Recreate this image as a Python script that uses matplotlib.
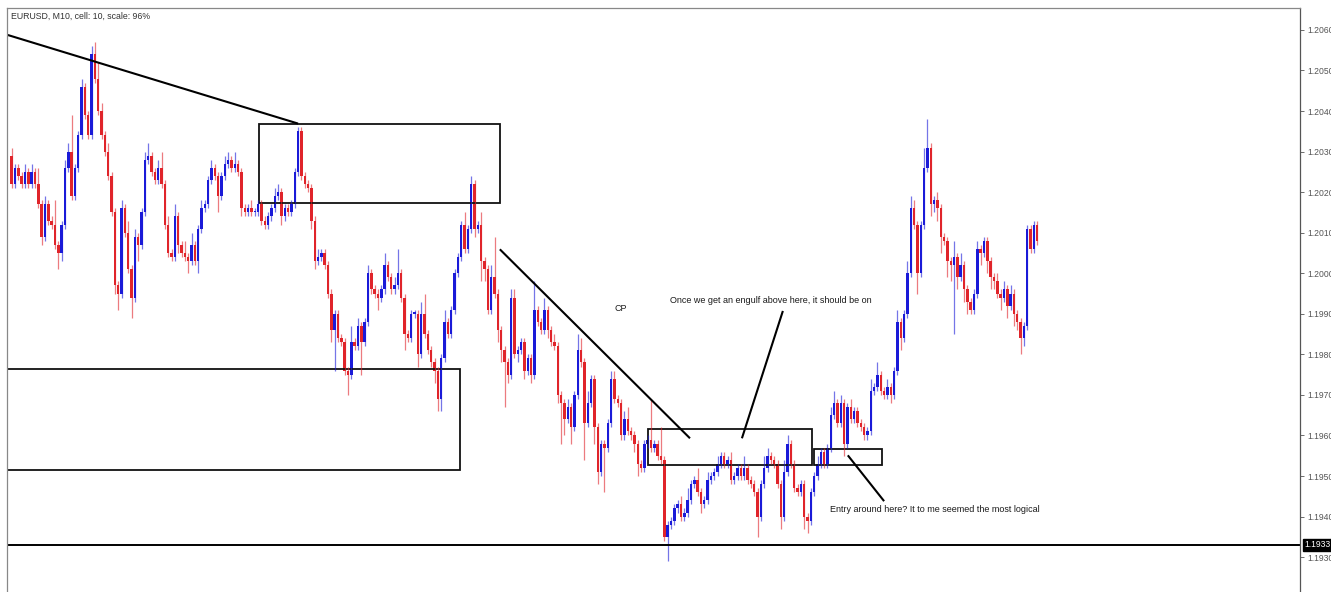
"""
EURUSD M10 candlestick chart with the trader's hand-drawn notes
(trend lines, supply/demand boxes and comments).
"""

import matplotlib
matplotlib.use("Agg")

import matplotlib.pyplot as plt
import numpy as np
from matplotlib.patches import Rectangle

# Price data. Open of each bar = previous close.
first_open = 1.2029

closes = [
    1.2022, 1.2026, 1.2024, 1.2022, 1.2025, 1.2022, 1.2025, 1.2022, 1.2017, 1.2009,
    1.2017, 1.2013, 1.2012, 1.2007, 1.2005, 1.2012, 1.2026, 1.2030, 1.2019, 1.2026,
    1.2034, 1.2046, 1.2039, 1.2034, 1.2054, 1.2048, 1.2040, 1.2034, 1.2030, 1.2024,
    1.2015, 1.1997, 1.1995, 1.2016, 1.2010, 1.2001, 1.1994, 1.2009, 1.2007, 1.2015,
    1.2028, 1.2029, 1.2025, 1.2023, 1.2026, 1.2022, 1.2012, 1.2005, 1.2004, 1.2014,
    1.2007, 1.2005, 1.2004, 1.2003, 1.2007, 1.2003, 1.2011, 1.2016, 1.2017, 1.2023,
    1.2026, 1.2024, 1.2019, 1.2024, 1.2027, 1.2028, 1.2026, 1.2027, 1.2025, 1.2016,
    1.2015, 1.2016, 1.2015, 1.2015, 1.2017, 1.2013, 1.2012, 1.2014, 1.2016, 1.2019,
    1.2020, 1.2014, 1.2016, 1.2015, 1.2017, 1.2025, 1.2035, 1.2024, 1.2022, 1.2021,
    1.2013, 1.2003, 1.2004, 1.2005, 1.2002, 1.1995, 1.1986, 1.1990, 1.1984, 1.1983,
    1.1976, 1.1975, 1.1983, 1.1982, 1.1987, 1.1983, 1.1988, 1.2000, 1.1996, 1.1995,
    1.1994, 1.1996, 1.2002, 1.1999, 1.1996, 1.1997, 1.2000, 1.1994, 1.1985, 1.1984,
    1.1990, 1.1990, 1.1980, 1.1990, 1.1985, 1.1981, 1.1978, 1.1976, 1.1969, 1.1979,
    1.1988, 1.1985, 1.1991, 1.2000, 1.2004, 1.2012, 1.2006, 1.2011, 1.2022, 1.2011,
    1.2012, 1.2003, 1.2001, 1.1991, 1.1999, 1.1995, 1.1986, 1.1981, 1.1978, 1.1975,
    1.1994, 1.1980, 1.1981, 1.1983, 1.1976, 1.1979, 1.1975, 1.1991, 1.1988, 1.1986,
    1.1991, 1.1986, 1.1983, 1.1982, 1.1970, 1.1968, 1.1964, 1.1967, 1.1962, 1.1970,
    1.1981, 1.1978, 1.1963, 1.1968, 1.1974, 1.1962, 1.1951, 1.1958, 1.1957, 1.1963,
    1.1974, 1.1969, 1.1968, 1.1960, 1.1964, 1.1961, 1.1960, 1.1958, 1.1953, 1.1952,
    1.1958, 1.1959, 1.1957, 1.1958, 1.1955, 1.1954, 1.1935, 1.1938, 1.1939, 1.1942,
    1.1943, 1.1940, 1.1941, 1.1944, 1.1948, 1.1949, 1.1946, 1.1943, 1.1944, 1.1949,
    1.1950, 1.1951, 1.1953, 1.1955, 1.1953, 1.1954, 1.1949, 1.1950, 1.1952, 1.1950,
    1.1952, 1.1949, 1.1948, 1.1946, 1.1940, 1.1948, 1.1952, 1.1955, 1.1954, 1.1953,
    1.1948, 1.1940, 1.1951, 1.1958, 1.1953, 1.1947, 1.1946, 1.1948, 1.1940, 1.1939,
    1.1946, 1.1950, 1.1953, 1.1956, 1.1953, 1.1957, 1.1965, 1.1968, 1.1963, 1.1968,
    1.1958, 1.1967, 1.1964, 1.1966, 1.1963, 1.1962, 1.1960, 1.1961, 1.1971, 1.1972,
    1.1975, 1.1971, 1.1970, 1.1972, 1.1970, 1.1976, 1.1988, 1.1984, 1.1990, 1.2000,
    1.2016, 1.2012, 1.2000, 1.2012, 1.2026, 1.2031, 1.2017, 1.2018, 1.2016, 1.2009,
    1.2008, 1.2003, 1.2002, 1.2004, 1.1999, 1.2002, 1.1996, 1.1993, 1.1991, 1.1995,
    1.2006, 1.2005, 1.2008, 1.2003, 1.1999, 1.1998, 1.1995, 1.1994, 1.1996, 1.1992,
    1.1995, 1.1990, 1.1988, 1.1984, 1.1987, 1.2011, 1.2006, 1.2012, 1.2008,
]

# Wick lengths above / below the body, in pips.
wick_up = [
    2, 1, 1, 1, 2, 1, 2, 1, 4, 1,  2, 1, 1, 6, 1, 1, 2, 2, 9, 1,
    1, 2, 1, 1, 2, 3, 4, 2, 1, 2,  1, 1, 1, 2, 1, 3, 1, 2, 1, 1,
    2, 3, 1, 1, 2, 4, 1, 2, 1, 3,  1, 1, 3, 1, 3, 1, 1, 2, 1, 1,
    2, 1, 1, 1, 2, 2, 1, 3, 1, 1,  1, 1, 2, 1, 1, 1, 1, 1, 1, 2,
    2, 1, 1, 1, 1, 1, 1, 1, 1, 1,  1, 1, 2, 1, 1, 1, 1, 1, 1, 1,
    1, 1, 4, 1, 2, 1, 1, 2, 1, 1,  1, 1, 3, 1, 1, 2, 6, 1, 1, 1,
    1, 1, 1, 3, 5, 1, 1, 1, 1, 1,  3, 1, 1, 1, 1, 1, 3, 1, 2, 1,
    1, 3, 1, 1, 3, 10, 1, 1, 1, 1, 2, 2, 1, 1, 1, 1, 1, 7, 1, 1,
    3, 1, 1, 2, 1, 1, 1, 2, 1, 1,  4, 3, 1, 3, 1, 1, 1, 1, 1, 1,
    2, 2, 1, 1, 2, 3, 1, 1, 1, 1,  1, 1, 10, 1, 1, 7, 1, 1, 1, 1,
    1, 2, 1, 3, 1, 1, 3, 1, 1, 2,  1, 1, 2, 1, 1, 1, 2, 1, 1, 1,
    3, 1, 1, 1, 1, 1, 3, 2, 1, 1,  1, 1, 3, 2, 1, 1, 1, 1, 1, 1,
    1, 1, 2, 1, 1, 1, 2, 3, 1, 2,  1, 1, 2, 1, 1, 1, 1, 1, 3, 1,
    3, 1, 1, 2, 1, 1, 3, 1, 1, 3,  3, 2, 1, 1, 5, 7, 1, 1, 2, 1,
    1, 1, 1, 4, 1, 3, 1, 1, 1, 1,  2, 1, 1, 1, 1, 1, 2, 1, 2, 1,
    2, 1, 1, 1, 1, 1, 1, 1, 1,
]

wick_dn = [
    1, 1, 1, 1, 1, 1, 1, 1, 1, 2,  1, 1, 1, 1, 4, 2, 1, 1, 1, 1,
    1, 1, 1, 1, 1, 1, 1, 1, 1, 1,  1, 2, 4, 1, 1, 1, 5, 1, 4, 1,
    1, 1, 1, 1, 1, 1, 1, 1, 1, 1,  2, 1, 1, 3, 1, 1, 3, 1, 1, 1,
    1, 1, 4, 1, 1, 1, 1, 1, 1, 2,  1, 1, 1, 1, 1, 1, 1, 1, 1, 1,
    1, 2, 1, 1, 1, 1, 1, 1, 1, 1,  2, 2, 1, 1, 1, 1, 3, 10, 1, 1,
    1, 5, 1, 1, 1, 8, 1, 1, 1, 1,  3, 1, 1, 1, 1, 1, 1, 1, 4, 1,
    1, 1, 3, 1, 1, 1, 1, 3, 3, 3,  1, 1, 1, 1, 1, 1, 1, 1, 1, 2,
    1, 5, 3, 1, 1, 1, 3, 3, 11, 2, 1, 1, 2, 1, 2, 1, 2, 1, 1, 1,
    1, 2, 1, 1, 2, 10, 4, 1, 4, 1, 1, 1, 9, 1, 1, 4, 3, 1, 11, 1,
    1, 1, 1, 1, 1, 1, 1, 2, 3, 1,  1, 1, 1, 1, 1, 1, 1, 6, 1, 1,
    1, 1, 1, 1, 1, 1, 1, 2, 1, 1,  1, 1, 1, 1, 1, 1, 1, 1, 1, 1,
    1, 1, 1, 1, 5, 1, 1, 1, 1, 1,  1, 3, 1, 1, 1, 1, 1, 1, 3, 3,
    1, 1, 1, 1, 1, 1, 1, 1, 1, 1,  3, 1, 1, 1, 1, 1, 1, 1, 1, 1,
    1, 1, 1, 1, 2, 1, 1, 3, 1, 1,  1, 1, 5, 1, 1, 1, 3, 2, 3, 4,
    1, 4, 4, 17, 3, 1, 3, 3, 1, 1, 1, 3, 1, 3, 3, 2, 1, 3, 1, 3,
    1, 3, 2, 4, 2, 1, 1, 1, 1,
]

header = "EURUSD, M10, cell: 10, scale: 96%"
price_ticks = [1.2060, 1.2050, 1.2040, 1.2030, 1.2020, 1.2010, 1.2000,
               1.1990, 1.1980, 1.1970, 1.1960, 1.1950, 1.1940, 1.1930]
last_price = 1.1933

# Drawn objects, in (bar index, price).
trend_lines = [
    ((-1.4, 1.20588), (86.0, 1.20369)),
    ((146.6, 1.20059), (203.7, 1.19593)),
    ((219.3, 1.19593), (231.6, 1.19907)),
    ((251.1, 1.19551), (262.0, 1.19438)),
]
zones = [  # x0, x1, low, high
    (74.3, 146.6, 1.20173, 1.20367),
    (-1.4, 134.6, 1.19514, 1.19765),
    (191.1, 240.3, 1.19526, 1.19617),
    (240.9, 261.3, 1.19526, 1.19566),
]
notes = [
    (183.0, 1.19912, "CP"),
    (228.0, 1.19932, "Once we get an engulf above here, it should be on"),
    (277.3, 1.19418, "Entry around here? It to me seemed the most logical"),
]

PIP = 0.0001
UP_COLOR = "#1a1ad8"
DOWN_COLOR = "#e0242a"
NOTE_FONT = ["Liberation Sans Narrow", "Liberation Sans", "DejaVu Sans"]
AXIS_FONT = ["Liberation Sans", "DejaVu Sans"]


def main():
    closes_arr = np.array(closes)
    opens = np.concatenate([[first_open], closes_arr[:-1]])
    body_top = np.maximum(opens, closes_arr)
    body_bot = np.minimum(opens, closes_arr)
    highs = body_top + np.array(wick_up) * PIP
    lows = body_bot - np.array(wick_dn) * PIP
    x = np.arange(len(closes_arr))
    bull = closes_arr >= opens
    colors = np.where(bull, UP_COLOR, DOWN_COLOR)

    fig = plt.figure(figsize=(13.31, 5.92), dpi=100)
    ax = fig.add_axes([7 / 1331, 0.0, 1293 / 1331, 584 / 592])

    # Wicks first, then the bodies on top.
    ax.vlines(x, lows, highs, colors=colors, linewidth=0.9, alpha=0.6)
    heights = np.maximum(body_top - body_bot, 0.35 * PIP)
    ax.bar(x, heights, bottom=body_bot, width=0.72, color=colors, linewidth=0)

    for (x0, y0), (x1, y1) in trend_lines:
        ax.plot([x0, x1], [y0, y1], color="black", linewidth=1.5,
                solid_capstyle="butt")

    for x0, x1, lo, hi in zones:
        ax.add_patch(Rectangle((x0, lo), x1 - x0, hi - lo, fill=False,
                               edgecolor="#111111", linewidth=1.3))

    ax.axhline(last_price, color="black", linewidth=1.4)

    for nx, ny, label in notes:
        ax.text(nx, ny, label, ha="center", va="center", fontsize=6.5,
                family=NOTE_FONT, color="#1a1a1a")

    ax.text(0.003, 0.993, header, transform=ax.transAxes, ha="left",
            va="top", fontsize=6.3, family=AXIS_FONT, color="#333333")

    ax.set_xlim(-1.41, 386.9)
    ax.set_ylim(1.19214, 1.20654)

    ax.yaxis.tick_right()
    ax.set_yticks(price_ticks)
    ax.set_yticklabels([f"{p:.4f}" for p in price_ticks])
    ax.tick_params(axis="y", direction="out", length=3, width=0.6,
                   pad=2, labelsize=6.2, colors="#555555")
    for lab in ax.get_yticklabels():
        lab.set_family(AXIS_FONT)
    ax.set_xticks([])

    ax.text(1.0035, last_price, f"{last_price:.4f}",
            transform=ax.get_yaxis_transform(), ha="left", va="center",
            fontsize=6.2, color="white", family=AXIS_FONT,
            bbox=dict(boxstyle="square,pad=0.15", facecolor="black",
                      edgecolor="black"))

    ax.spines["bottom"].set_visible(False)
    ax.spines["top"].set_color("#888888")
    ax.spines["left"].set_color("#888888")
    ax.spines["right"].set_color("#555555")
    for sp in ax.spines.values():
        sp.set_linewidth(0.9)

    fig.savefig("out.png", dpi=100, facecolor="white")
    plt.close(fig)


if __name__ == "__main__":
    main()
